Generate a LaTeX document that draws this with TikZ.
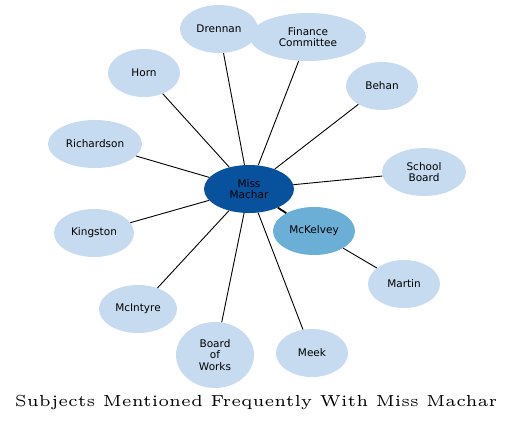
\documentclass[tikz,border=0pt]{standalone}
\usepackage{fontspec}
\usepackage{tikz}
\usetikzlibrary{shapes.geometric}
\newfontfamily\nodefont{DejaVu Sans}
\newfontfamily\titlefont{lmroman5-regular.otf}
\definecolor{hubblue}{HTML}{08519C}
\definecolor{midblue}{HTML}{6BAED6}
\definecolor{paleblue}{HTML}{C6DBEF}
\tikzset{
  subject/.style={ellipse,draw=none,fill=paleblue,inner sep=0pt,
                  align=center,font=\nodefont\fontsize{10.5}{11.5}\selectfont},
  hub/.style={subject,fill=hubblue},
  near/.style={subject,fill=midblue},
  link/.style={line width=0.9pt,black},
  strong/.style={line width=1.8pt,black}
}
\begin{document}
\begin{tikzpicture}[x=1pt,y=-1pt]
  \useasboundingbox (0,0) rectangle (513,424);
  % outer subjects
  \node[subject,minimum width=78pt,minimum height=48pt] (drennan) at (219,29) {Drennan};
  \node[subject,minimum width=116pt,minimum height=48pt] (finance) at (308,37) {Finance\\Committee};
  \node[subject,minimum width=72pt,minimum height=48pt] (horn) at (144,73) {Horn};
  \node[subject,minimum width=72pt,minimum height=48pt] (behan) at (382,86) {Behan};
  \node[subject,minimum width=94pt,minimum height=48pt] (richardson) at (95,144) {Richardson};
  \node[subject,minimum width=84pt,minimum height=48pt] (school) at (424,172) {School\\Board};
  \node[subject,minimum width=80pt,minimum height=48pt] (kingston) at (94,233) {Kingston};
  \node[subject,minimum width=72pt,minimum height=48pt] (martin) at (404,284) {Martin};
  \node[subject,minimum width=78pt,minimum height=48pt] (mcintyre) at (138,309) {McIntyre};
  \node[subject,minimum width=78pt,minimum height=66pt] (works) at (215,355) {Board\\of\\Works};
  \node[subject,minimum width=72pt,minimum height=48pt] (meek) at (312,353) {Meek};
  % centre
  \node[hub,minimum width=90pt,minimum height=48pt] (machar) at (249,189) {Miss\\Machar};
  \node[near,minimum width=82pt,minimum height=48pt] (mckelvey) at (314,231) {McKelvey};
  % links
  \foreach \n in {drennan,finance,horn,behan,richardson,school,kingston,mcintyre,works,meek}
    \draw[link] (machar) -- (\n);
  \draw[strong] (machar) -- (mckelvey);
  \draw[link] (mckelvey) -- (martin);
  % caption
  \node[font=\titlefont\fontsize{16}{19}\selectfont] (title) at (256,402)
    {Subjects Mentioned Frequently With Miss Machar};
\end{tikzpicture}
\end{document}
